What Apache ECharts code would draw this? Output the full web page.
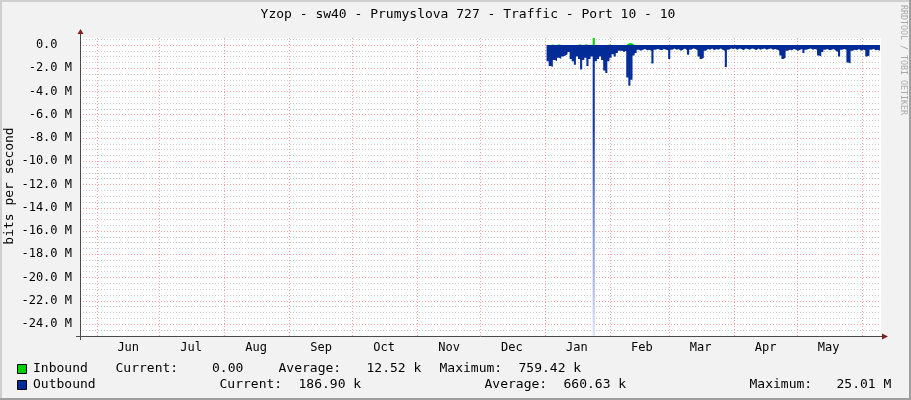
<!DOCTYPE html>
<html><head><meta charset="utf-8">
<script src="https://cdn.jsdelivr.net/npm/echarts@6/dist/echarts.min.js"></script>
<style>html,body{margin:0;padding:0;background:#f2f2f2}#c{width:911px;height:400px}</style>
</head><body><div id="c"></div>
<script>
// ---------- data ----------
const chartTitle = 'Yzop - sw40 - Prumyslova 727 - Traffic - Port 10 - 10';
const axisStartDate = '2018-05-24';
const axisEndDate = '2019-06-10';
const dataStartDate = '2019-01-02';   // first day of outboundMbps / inboundMbps
const monthNames = ['Jan','Feb','Mar','Apr','May','Jun','Jul','Aug','Sep','Oct','Nov','Dec'];
const yMajorTicks = [0,-2,-4,-6,-8,-10,-12,-14,-16,-18,-20,-22,-24];
const yMinorTicks = [0.5,-0.5,-1,-1.5,-2.5,-3,-3.5,-4.5,-5,-5.5,-6.5,-7,-7.5,-8.5,-9,-9.5,
  -10.5,-11,-11.5,-12.5,-13,-13.5,-14.5,-15,-15.5,-16.5,-17,-17.5,-18.5,-19,-19.5,
  -20.5,-21,-21.5,-22.5,-23,-23.5,-24.5];
// daily values, Mbit/s (outbound drawn negative)
const outboundMbps = [
  -1.4,-1.8,-1.9,-1.3,-1.4,-1.1,-1.2,-1.0,-0.9,-0.8,
  -0.6,-1.2,-1.4,-1.7,-1.0,-1.2,-2.1,-1.3,-1.1,-1.8,
  -1.2,-1.0,-25.0,-1.4,-1.2,-1.0,-1.3,-2.2,-2.4,-1.4,
  -1.1,-0.8,-1.0,-0.7,-0.5,-0.5,-0.6,-0.5,-2.8,-3.5,
  -3.0,-0.9,-0.7,-0.4,-0.5,-0.4,-0.35,-0.45,-0.4,-0.5,
  -1.6,-0.4,-0.35,-0.4,-0.45,-0.35,-0.4,-0.45,-1.2,-0.4,
  -0.3,-0.4,-0.35,-0.5,-0.4,-0.3,-0.45,-0.85,-0.4,-0.3,
  -0.35,-0.45,-1.0,-1.2,-1.1,-0.5,-0.35,-0.4,-0.3,-0.45,
  -0.35,-0.4,-0.3,-0.4,-0.5,-1.9,-0.4,-0.3,-0.35,-0.3,
  -0.4,-0.3,-0.35,-0.45,-0.3,-0.35,-0.4,-0.3,-0.35,-0.45,
  -0.3,-0.4,-0.35,-0.3,-0.4,-0.35,-0.3,-0.4,-0.35,-0.4,
  -0.5,-0.9,-1.2,-1.1,-0.5,-0.4,-0.45,-0.35,-0.4,-0.5,
  -0.4,-0.35,-0.7,-0.4,-0.35,-0.3,-0.4,-0.35,-0.4,-0.9,
  -1.0,-0.6,-0.4,-0.35,-0.45,-0.4,-0.35,-0.5,-0.6,-1.0,
  -0.4,-0.35,-0.4,-1.5,-1.6,-0.5,-0.4,-0.45,-0.35,-0.5,
  -0.4,-0.45,-1.0,-0.9,-0.4,-0.35,-0.45,-0.4,-0.5
];
const inboundMbps = [
  0,0,0.05,0,0,0.06,0,0,0,0,
  0,0,0,0,0,0.06,0,0,0.07,0,
  0,0,0.76,0,0,0,0,0,0,0.05,
  0,0,0,0,0,0,0,0,0.1,0.17,
  0.12,0,0,0,0,0,0,0,0,0,
  0,0,0,0,0,0,0,0,0,0,
  0,0,0,0,0,0,0,0,0,0,
  0,0,0,0,0,0,0,0,0,0,
  0,0,0,0,0,0,0,0,0,0,
  0,0,0,0,0,0,0,0,0,0,
  0,0,0,0,0,0,0,0,0,0,
  0,0,0,0,0,0,0,0,0,0,
  0,0,0,0,0,0,0,0,0,0,
  0,0,0,0,0,0,0,0,0,0,
  0,0,0,0,0,0,0,0,0,0,
  0,0,0,0,0,0,0,0,0
];
const legendInbound  = ['Inbound','Current:','0.00','Average:','12.52 k','Maximum:','759.42 k'];
const legendOutbound = ['Outbound','Current:','186.90 k','Average:','660.63 k','Maximum:','25.01 M'];
const seriesColors = ['#00CF00','#002A97'];

// ---------- build ----------
const DAY = 86400000;
function parseDay(s){const p=s.split('-').map(Number);return Date.UTC(p[0],p[1]-1,p[2]);}
const t0 = parseDay(axisStartDate), t1 = parseDay(axisEndDate), td = parseDay(dataStartDate);
const days = [];
for (let t=t0; t<=t1; t+=DAY) days.push(new Date(t).toISOString().slice(0,10));
const off = Math.round((td-t0)/DAY);
function align(arr){return days.map((d,i)=>{const k=i-off;return (k>=0&&k<arr.length)?arr[k]:null;});}

const FONT = 'DejaVu Sans Mono';
const legendX1 = [33,115.5,212,278.5,366.5,439.5,518.5];
const legendX2 = [33,219.5,298.5,484.5,563.5,749.5,836.5];
const graphics = [
  {type:'rect',shape:{x:0,y:0,width:911,height:2},style:{fill:'#cfcfcf'},silent:true},
  {type:'rect',shape:{x:0,y:0,width:2,height:400},style:{fill:'#cfcfcf'},silent:true},
  {type:'rect',shape:{x:909,y:0,width:2,height:400},style:{fill:'#9e9e9e'},silent:true},
  {type:'rect',shape:{x:0,y:398,width:911,height:2},style:{fill:'#9e9e9e'},silent:true},
  {type:'text',x:468,y:15,style:{text:chartTitle,fontFamily:FONT,fontSize:13,fill:'#000',align:'center',verticalAlign:'middle'}},
  {type:'text',x:903,y:60,rotation:-Math.PI/2,style:{text:'RRDTOOL / TOBI OETIKER',fontFamily:FONT,fontSize:8.3,fill:'#a8a8a8',align:'center',verticalAlign:'middle'}},
  {type:'text',x:10,y:186,rotation:Math.PI/2,style:{text:'bits per second',fontFamily:FONT,fontSize:13,fill:'#000',align:'center',verticalAlign:'middle'}},
  {type:'line',shape:{x1:80.5,y1:33,x2:80.5,y2:38},style:{stroke:'#4a4a4a',lineWidth:1}},
  {type:'line',shape:{x1:80.5,y1:336,x2:80.5,y2:340},style:{stroke:'#4a4a4a',lineWidth:1}},
  {type:'line',shape:{x1:76,y1:336.5,x2:81,y2:336.5},style:{stroke:'#4a4a4a',lineWidth:1}},
  {type:'line',shape:{x1:881,y1:336.5,x2:884,y2:336.5},style:{stroke:'#4a4a4a',lineWidth:1}},
  {type:'polygon',shape:{points:[[77.5,34],[83.5,34],[80.5,29]]},style:{fill:'#801f1f'}},
  {type:'polygon',shape:{points:[[882,333.5],[882,339.5],[888,336.5]]},style:{fill:'#801f1f'}},
  {type:'rect',shape:{x:17.5,y:364.5,width:9,height:9},style:{fill:seriesColors[0],stroke:'#000',lineWidth:1}},
  {type:'rect',shape:{x:17.5,y:380.5,width:9,height:9},style:{fill:seriesColors[1],stroke:'#000',lineWidth:1}}
];
legendInbound.forEach((s,i)=>graphics.push({type:'text',x:legendX1[i],y:369,style:{text:s,fontFamily:FONT,fontSize:13,fill:'#000',verticalAlign:'middle'}}));
legendOutbound.forEach((s,i)=>graphics.push({type:'text',x:legendX2[i],y:385,style:{text:s,fontFamily:FONT,fontSize:13,fill:'#000',verticalAlign:'middle'}}));

const chart = echarts.init(document.getElementById('c'), null, {renderer:'canvas'});
chart.setOption({
  animation:false,
  backgroundColor:'#f2f2f2',
  grid:{left:80,right:30,top:38,bottom:64,show:true,backgroundColor:'#ffffff',borderWidth:0},
  xAxis:{
    type:'category',data:days,boundaryGap:false,
    axisLine:{onZero:false,lineStyle:{color:'#4a4a4a',width:1}},
    axisTick:{show:false},
    axisLabel:{interval:(i,v)=>v.slice(8)==='16',formatter:v=>monthNames[+v.slice(5,7)-1],
      fontFamily:FONT,fontSize:12,color:'#000',margin:6},
    splitLine:{show:true,interval:(i,v)=>v.slice(8)==='01',
      lineStyle:{color:'rgba(232,100,100,0.6)',type:[1,2],width:1}}
  },
  yAxis:[
    {type:'value',min:-25.03,max:0.6,
      axisLine:{show:true,lineStyle:{color:'#4a4a4a',width:1}},
      axisTick:{show:false,customValues:yMajorTicks},
      axisLabel:{customValues:yMajorTicks,formatter:v=>v===0?'0.0  ':v.toFixed(1)+' M',
        fontFamily:FONT,fontSize:12,color:'#000',margin:8},
      splitLine:{show:true,lineStyle:{color:'rgba(232,100,100,0.6)',type:[1,2],width:1}}
    },
    {type:'value',min:-25.03,max:0.6,
      axisLine:{show:false},
      axisTick:{show:false,customValues:yMinorTicks},
      axisLabel:{show:false,customValues:yMinorTicks},
      splitLine:{show:true,lineStyle:{color:'rgba(150,150,150,0.5)',type:[1,2],width:1}}
    }
  ],
  series:[
    {type:'line',name:'Inbound',data:align(inboundMbps),step:'middle',symbol:'none',
      lineStyle:{width:0,opacity:0},areaStyle:{color:seriesColors[0],opacity:1},z:3},
    {type:'line',name:'Outbound',data:align(outboundMbps),step:'middle',symbol:'none',
      lineStyle:{width:0,opacity:0},
      areaStyle:{opacity:1,color:new echarts.graphic.LinearGradient(0,0,0,1,[
        {offset:0,color:seriesColors[1]},{offset:0.3,color:'#1a3ca0'},
        {offset:0.55,color:'#6f86d0'},{offset:0.8,color:'#a7b5e4'},{offset:1,color:'#dde3f6'}])},z:4}
  ],
  graphic:graphics
});
</script></body></html>
